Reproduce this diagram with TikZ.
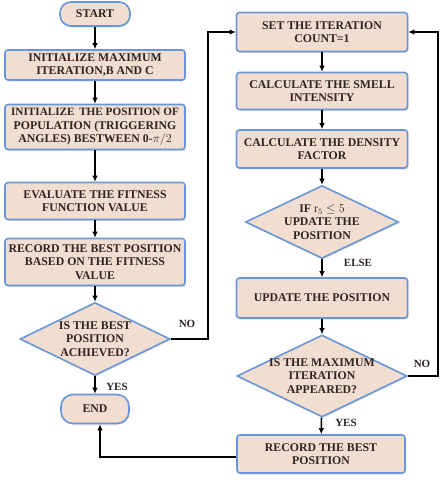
\documentclass[tikz,border=0pt]{standalone}
\usepackage{fontspec}
\setmainfont{Liberation Serif}
\usetikzlibrary{shapes.geometric,arrows.meta,shadows}
\definecolor{boxfill}{RGB}{242,222,208}
\definecolor{boxline}{RGB}{105,150,215}
\definecolor{txt}{RGB}{45,35,35}
\begin{document}
\begin{tikzpicture}[x=1pt,y=-1pt,
  every node/.style={font=\fontsize{11.8}{13.5}\selectfont\bfseries, text=txt},
  procbox/.style={draw=boxline, line width=1.6pt, fill=boxfill, rounded corners=3pt,
     align=center, inner sep=1pt,
     drop shadow={opacity=0.2, shadow xshift=1pt, shadow yshift=-1.5pt}},
  termbox/.style={procbox, rounded corners=11pt},
  decbox/.style={draw=boxline, line width=1.6pt, fill=boxfill, diamond, inner sep=0pt,
     drop shadow={opacity=0.2, shadow xshift=1pt, shadow yshift=-1.5pt}},
  dectext/.style={align=center, inner sep=0pt},
  arr/.style={-{Latex[length=6pt,width=5.5pt]}, line width=1.6pt, black},
  lbl/.style={font=\fontsize{11}{12}\selectfont\bfseries, text=txt, inner sep=1pt}
]
\useasboundingbox (0,0) rectangle (440,482);

% left column
\node[termbox, minimum width=70, minimum height=24] (start) at (95,14) {START};
\node[procbox, minimum width=180, minimum height=30] (b1) at (95,65) {INITIALIZE MAXIMUM\\ITERATION,B AND C};
\node[procbox, minimum width=180, minimum height=45] (b2) at (95,127) {{\fontsize{11.2}{13.5}\selectfont INITIALIZE\,\ THE POSITION OF}\\POPULATION (TRIGGERING\\ANGLES) BESTWEEN 0-$\pi/2$};
\node[procbox, minimum width=180, minimum height=37] (b3) at (95,201) {EVALUATE THE FITNESS\\FUNCTION VALUE};
\node[procbox, minimum width=180, minimum height=47] (b4) at (95,262) {RECORD THE BEST POSITION\\BASED ON THE FITNESS\\VALUE};
\node[decbox, minimum width=150, minimum height=73] (d1) at (95,339) {};
\node[dectext] (d1t) at (95,339) {IS THE BEST\\POSITION\\ACHIEVED?};
\node[termbox, minimum width=68, minimum height=29, rounded corners=12pt] (end) at (95,409) {END};

% right column
\node[procbox, minimum width=171, minimum height=39] (s1) at (322,32) {SET THE ITERATION\\COUNT=1};
\node[procbox, minimum width=171, minimum height=37] (s2) at (322,91) {CALCULATE THE SMELL\\INTENSITY};
\node[procbox, minimum width=171, minimum height=38] (s3) at (322,149) {CALCULATE THE DENSITY\\FACTOR};
\node[decbox, minimum width=153, minimum height=73] (d2) at (322,222) {};
\node[dectext] (d2t) at (322,222) {IF $\mathrm{r}_5 \leq 5$\\UPDATE THE\\POSITION};
\node[procbox, minimum width=171, minimum height=40] (s4) at (322,298) {UPDATE THE POSITION};
\node[decbox, minimum width=170, minimum height=82] (d3) at (322,376) {};
\node[dectext] (d3t) at (322,376) {IS THE MAXIMUM\\ITERATION\\APPEARED?};
\node[procbox, minimum width=168, minimum height=38] (s5) at (321,454) {RECORD THE BEST\\POSITION};

% connectors left
\draw[arr] (start) -- (b1);
\draw[arr] (b1) -- (b2);
\draw[arr] (b2) -- (b3);
\draw[arr] (b3) -- (b4);
\draw[arr] (b4) -- (d1);
\draw[arr] (d1) -- (end);
\node[lbl] (yes1) at (117,387) {YES};
\coordinate (c1) at (208,339);
\draw[arr] (d1.east) -- (c1) |- (s1.west);
\node[lbl] (no1) at (187,324) {NO};

% connectors right
\draw[arr] (s1) -- (s2);
\draw[arr] (s2) -- (s3);
\draw[arr] (s3) -- (d2);
\draw[arr] (d2) -- (s4);
\node[lbl] (else) at (358,263) {ELSE};
\draw[arr] (s4) -- (d3);
\draw[arr] (d3) -- (s5);
\node[lbl] (yes2) at (346,423) {YES};
\coordinate (c2) at (438,376);
\draw[arr] (d3.east) -- (c2) |- (s1.east);
\node[lbl] (no2) at (422,364) {NO};
\coordinate (c3) at (100,457);
\draw[arr] (s5.west |- c3) -- (c3) -- (c3 |- end.south);
\end{tikzpicture}
\end{document}
